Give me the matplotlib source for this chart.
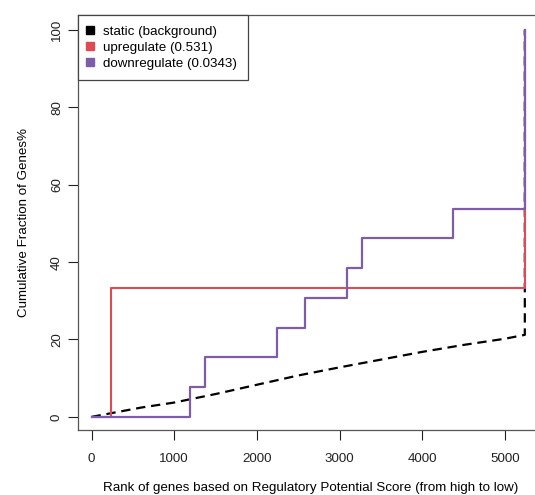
import matplotlib
matplotlib.use("Agg")
import matplotlib.pyplot as plt
from matplotlib.lines import Line2D

plt.rcParams['font.family'] = ['Liberation Sans', 'DejaVu Sans']

# static background cumulative curve
static_rank = [0, 300, 600, 1000, 1500, 2000, 2500, 3000, 3500, 4000, 4500, 5000, 5240, 5240]
static_pct = [0, 1.2, 2.4, 3.7, 5.9, 8.3, 10.7, 12.8, 14.8, 16.8, 18.6, 20.2, 21.2, 100]

# upregulate (step)
up_rank = [0, 238, 5240]
up_pct = [0, 33.33, 100]

# downregulate (step)
down_rank = [0, 1190, 1370, 2243, 2580, 3095, 3265, 4367, 5240]
down_pct = [0, 7.69, 15.38, 23.08, 30.77, 38.46, 46.15, 53.85, 100]

legend_labels = ["static (background)", "upregulate (0.531)", "downregulate (0.0343)"]
colors = ["black", "#DF4A55", "#7E5CA8"]

x_ticks = [0, 1000, 2000, 3000, 4000, 5000]
y_ticks = [0, 20, 40, 60, 80, 100]

fs = 9.6
fig = plt.figure(figsize=(5.35, 4.95), dpi=100)
ax = fig.add_axes([77.5/535, 65/495, (543-77.5)/535, (430-15)/495])

ax.plot(static_rank, static_pct, color=colors[0], lw=1.6, linestyle=(0, (4.2, 2.6)))
ax.step(up_rank, up_pct, where='post', color=colors[1], lw=1.5)
ax.step(down_rank, down_pct, where='post', color=colors[2], lw=1.6)

ax.set_xlim(-170, 5460)
ax.set_ylim(-3.4, 103.9)
ax.set_xticks(x_ticks)
ax.set_yticks(y_ticks)
ax.tick_params(axis='both', length=7, width=0.8, labelsize=fs, colors='#222222')
ax.tick_params(axis='x', pad=9.5)
ax.tick_params(axis='y', pad=3.5)
for lab in ax.get_yticklabels():
    lab.set_rotation(90)
    lab.set_va('center')
for s in ax.spines.values():
    s.set_color('#555555')
    s.set_linewidth(0.9)

ax.set_xlabel("Rank of genes based on Regulatory Potential Score (from high to low)", fontsize=fs, labelpad=12)
ax.set_ylabel("Cumulative Fraction of Genes%", fontsize=fs, labelpad=15)

handles = [Line2D([], [], marker='s', linestyle='none', color=c, markersize=5.5) for c in colors]
leg = ax.legend(handles, legend_labels, loc='upper left', borderaxespad=0, fancybox=False,
                fontsize=fs, handletextpad=0.8, handlelength=0.3, labelspacing=0.26,
                borderpad=0.8, framealpha=1)
leg.get_frame().set_edgecolor('#444444')
leg.get_frame().set_linewidth(0.9)

fig.savefig("out.png", dpi=100)
